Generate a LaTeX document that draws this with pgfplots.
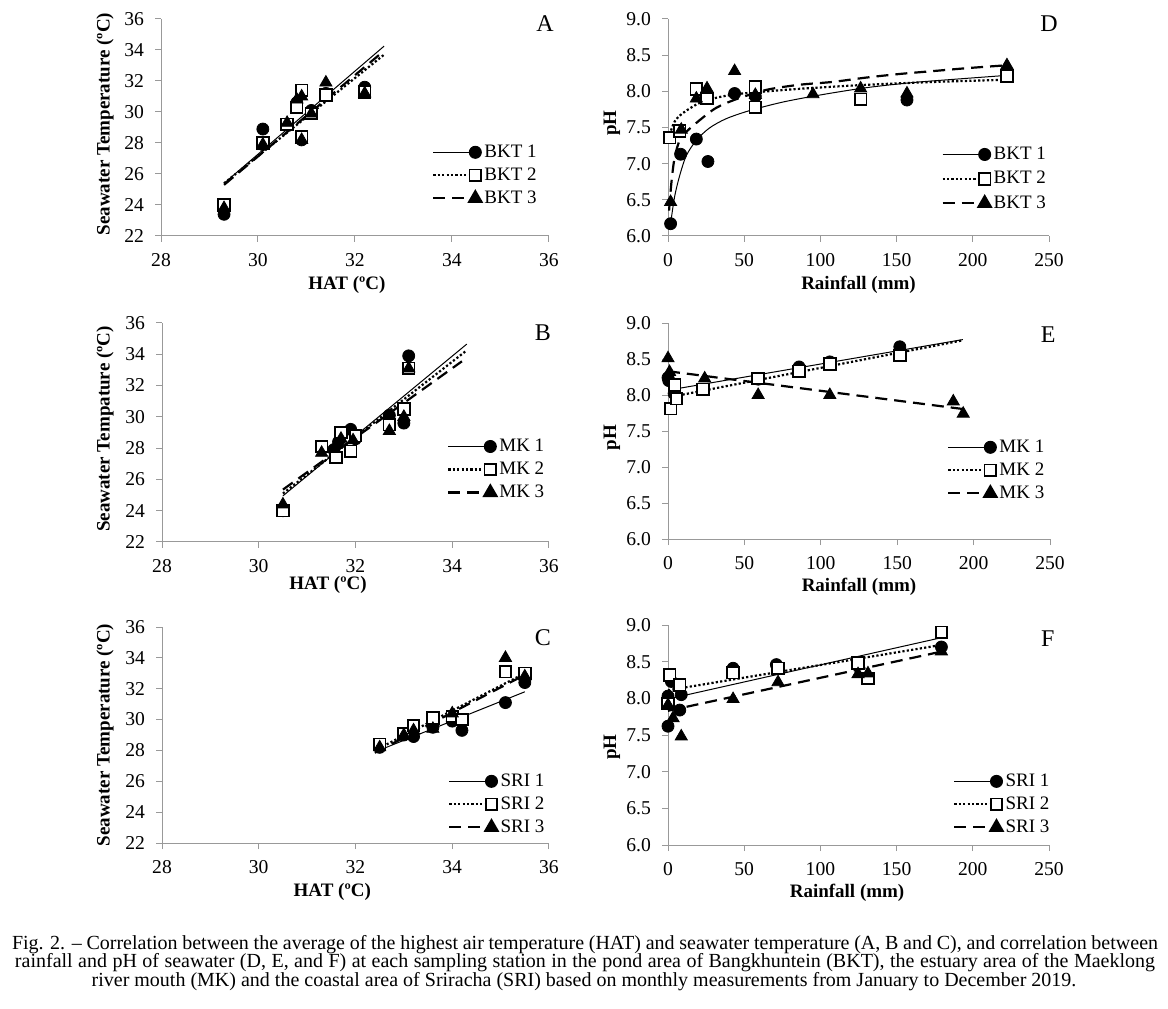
\documentclass[border=0pt]{standalone}
\usepackage{fontspec}
\setmainfont{Liberation Serif}
\usepackage{pgfplots}
\pgfplotsset{compat=1.18}

\pgfplotsset{
  panel/.style={
    scale only axis, width=194pt, height=108.5pt,
    axis x line*=bottom, axis y line*=left,
    axis line style={draw=gray!80, line width=0.5pt, -},
    tick style={draw=gray!80, line width=0.5pt},
    tick align=outside, major tick length=3pt,
    clip=false,
    ticklabel style={font=\fontsize{9.8}{10}\selectfont},
    yticklabel style={xshift=-2pt},
    xticklabel style={yshift=-2pt},
    label style={font=\bfseries\fontsize{9.5}{11}\selectfont},
    /pgf/number format/assume math mode=true,
    legend cell align=left,
    legend style={draw=none, fill=none, inner sep=0pt, anchor=north west,
      font=\fontsize{9.5}{11}\selectfont, row sep=2.5pt, column sep=1.5pt,
      nodes={inner sep=0pt, text height=7pt, text depth=2pt}},
    legend image code/.code={\draw[##1, mark repeat=2, mark phase=2]
      plot coordinates {(0pt,0pt) (21pt,0pt)};},
  },
  temp/.style={panel, xmin=28, xmax=36, ymin=22, ymax=36,
    xtick={28,30,...,36}, ytick={22,24,...,36}, xlabel={HAT (ºC)}},
  ph/.style={panel, width=190.5pt, xmin=0, xmax=250, ymin=6, ymax=9,
    xtick={0,50,...,250}, ytick={6,6.5,...,9},
    yticklabel style={/pgf/number format/.cd, fixed, fixed zerofill, precision=1},
    xlabel={Rainfall (mm)}, ylabel={pH}},
  s1/.style={only marks, mark=*, mark size=3pt, mark options={fill=black, draw=black}, forget plot},
  s2/.style={only marks, mark=square*, mark size=2.9pt, mark options={fill=white, draw=black, line width=0.9pt}, forget plot},
  s3/.style={only marks, mark=triangle*, mark size=3.5pt, mark options={fill=black, draw=black}, forget plot},
  l1/.style={no marks, black, line width=0.5pt, forget plot},
  l2/.style={no marks, black, line width=1.1pt, dash pattern=on 1.1pt off 1.1pt, forget plot},
  l3/.style={no marks, black, line width=1.1pt, dash pattern=on 6pt off 3.5pt, forget plot},
  g1/.style={black, line width=0.5pt, mark=*, mark size=3pt, mark options={solid, fill=black}},
  g2/.style={black, line width=1.1pt, dash pattern=on 1.1pt off 1.1pt, mark=square*, mark size=2.9pt, mark options={solid, fill=white, line width=0.9pt}},
  g3/.style={black, line width=1.1pt, dash pattern=on 6pt off 3.5pt, mark=triangle*, mark size=3.5pt, mark options={solid, fill=black}},
}
\newcommand\panelletter[3]{\node[font=\fontsize{12}{12}\selectfont] at (rel axis cs:#1,#2) {#3};}

\begin{document}
\begin{tikzpicture}
\path[use as bounding box] (0,0) rectangle (584pt,504pt);

% ---------- A: BKT, HAT vs seawater temperature
\begin{axis}[temp, at={(80.5pt,386pt)}, anchor=south west,
    ylabel={Seawater Temperature (ºC)},
    xlabel style={at={(axis description cs:0.479,-0.226)}, anchor=center},
    ylabel style={at={(axis description cs:-0.144,0.516)}, anchor=center},
    legend style={at={(0.698,0.429)}}]
  \addplot[s1] coordinates {(29.3,23.4) (30.1,28.9) (30.1,27.9) (30.6,29.2) (30.8,30.6) (30.9,28.2) (31.1,30.1) (31.4,31.2) (32.2,31.6)};
  \addplot[s2] coordinates {(29.3,24.0) (30.1,28.0) (30.6,29.2) (30.8,30.3) (30.9,31.4) (30.9,28.4) (31.1,29.9) (31.4,31.1) (32.2,31.3)};
  \addplot[s3] coordinates {(29.3,23.8) (30.1,27.9) (30.6,29.3) (30.8,30.8) (30.9,31.0) (30.9,28.2) (31.1,29.9) (31.4,31.9) (32.2,31.2)};
  \addplot[l1] coordinates {(29.3,25.4) (32.6,34.25)};
  \addplot[l2] coordinates {(29.3,25.4) (32.6,33.7)};
  \addplot[l3] coordinates {(29.3,25.3) (32.6,33.95)};
  \addlegendimage{g1}\addlegendentry{BKT 1}
  \addlegendimage{g2}\addlegendentry{BKT 2}
  \addlegendimage{g3}\addlegendentry{BKT 3}
  \panelletter{0.99}{0.977}{A}
\end{axis}

% ---------- B: MK
\begin{axis}[temp, at={(81pt,233pt)}, anchor=south west, width=193.5pt, height=109.5pt,
    ylabel={Seawater Tempature (ºC)},
    xlabel style={at={(axis description cs:0.429,-0.196)}, anchor=center},
    ylabel style={at={(axis description cs:-0.147,0.516)}, anchor=center},
    legend style={at={(0.736,0.479)}}]
  \addplot[s1] coordinates {(30.5,24.0) (31.55,27.9) (31.65,28.4) (31.9,29.2) (32.0,28.6) (32.7,30.1) (33.0,29.6) (33.1,33.9)};
  \addplot[s2] coordinates {(30.5,24.0) (31.3,28.1) (31.6,27.4) (31.7,29.0) (31.9,27.8) (32.0,28.8) (32.7,29.5) (33.0,30.5) (33.1,33.1)};
  \addplot[s3] coordinates {(30.5,24.4) (31.3,27.7) (31.6,28.2) (31.7,28.6) (31.95,28.5) (32.7,29.1) (33.0,30.0) (33.1,33.1)};
  \addplot[l1] coordinates {(30.5,24.95) (34.3,34.65)};
  \addplot[l2] coordinates {(30.5,25.1) (34.3,34.25)};
  \addplot[l3] coordinates {(30.5,25.35) (34.2,33.55)};
  \addlegendimage{g1}\addlegendentry{MK 1}
  \addlegendimage{g2}\addlegendentry{MK 2}
  \addlegendimage{g3}\addlegendentry{MK 3}
  \panelletter{0.984}{0.954}{B}
\end{axis}

% ---------- C: SRI
\begin{axis}[temp, at={(81pt,82.5pt)}, anchor=south west, width=193.5pt, height=108pt,
    ylabel={Seawater Temperature (ºC)},
    xlabel style={at={(axis description cs:0.44,-0.227)}, anchor=center},
    ylabel style={at={(axis description cs:-0.147,0.50)}, anchor=center},
    legend style={at={(0.739,0.329)}}]
  \addplot[s1] coordinates {(32.5,28.2) (33.0,29.0) (33.2,28.9) (33.6,29.5) (34.0,29.9) (34.2,29.3) (35.1,31.1) (35.5,32.4)};
  \addplot[s2] coordinates {(32.5,28.4) (33.0,29.1) (33.2,29.6) (33.6,30.1) (34.0,30.2) (34.2,30.0) (35.1,33.1) (35.5,33.0)};
  \addplot[s3] coordinates {(32.5,28.2) (33.0,29.0) (33.2,29.3) (33.6,29.4) (34.0,30.4) (35.1,34.0) (35.5,32.8)};
  \addplot[l1] coordinates {(32.4,27.9) (35.5,31.8)};
  \addplot[l2] coordinates {(32.4,28.0) (35.5,33.0)};
  \addplot[l3] coordinates {(32.4,27.85) (35.5,32.9)};
  \addlegendimage{g1}\addlegendentry{SRI 1}
  \addlegendimage{g2}\addlegendentry{SRI 2}
  \addlegendimage{g3}\addlegendentry{SRI 3}
  \panelletter{0.984}{0.95}{C}
\end{axis}

% ---------- D: BKT, rainfall vs pH (log trend lines)
\begin{axis}[ph, at={(334pt,386pt)}, anchor=south west,
    xlabel style={at={(axis description cs:0.50,-0.226)}, anchor=center},
    ylabel style={at={(axis description cs:-0.147,0.52)}, anchor=center},
    legend style={at={(0.717,0.419)}, row sep=3.2pt}]
  \addplot[s1] coordinates {(1.7,6.17) (8.3,7.13) (18.6,7.34) (26.2,7.03) (43.7,7.97) (57.3,7.93) (156.8,7.88)};
  \addplot[s2] coordinates {(1.1,7.36) (7.7,7.45) (18.6,8.03) (25.6,7.90) (57.3,8.06) (57.3,7.78) (126.4,7.89) (222.4,8.21)};
  \addplot[s3] coordinates {(1.7,6.47) (8.7,7.47) (18.6,7.90) (25.6,8.04) (43.7,8.28) (57.3,7.95) (95.1,7.96) (126.4,8.04) (156.8,7.97) (222.4,8.36)};
  \addplot[l1, smooth] coordinates {(1.7,6.17) (4.3,6.54) (7.6,6.83) (12,7.11) (18.5,7.32) (27,7.49) (38,7.62) (53,7.73) (75,7.85) (100,7.95) (130,8.05) (160,8.12) (190,8.17) (222,8.22)};
  \addplot[l2, smooth] coordinates {(1.1,7.40) (4.3,7.58) (9.8,7.70) (20.7,7.84) (31.5,7.91) (44.6,7.96) (65,8.0) (90,8.04) (130,8.09) (175,8.13) (222,8.16)};
  \addplot[l3, smooth] coordinates {(0.7,6.35) (2.2,6.73) (4.3,7.08) (7.6,7.32) (12,7.44) (20.7,7.60) (31.5,7.77) (44.6,7.89) (64.5,8.02) (86,8.09) (108,8.13) (130,8.19) (152,8.24) (174,8.28) (196,8.32) (222,8.36)};
  \addlegendimage{g1}\addlegendentry{BKT 1}
  \addlegendimage{g2}\addlegendentry{BKT 2}
  \addlegendimage{g3}\addlegendentry{BKT 3}
  \panelletter{1.0}{0.98}{D}
\end{axis}

% ---------- E: MK
\begin{axis}[ph, at={(334pt,234.5pt)}, anchor=south west, height=108pt, width=191pt,
    xlabel style={at={(axis description cs:0.50,-0.222)}, anchor=center},
    ylabel style={at={(axis description cs:-0.147,0.47)}, anchor=center},
    legend style={at={(0.730,0.468)}}]
  \addplot[s1] coordinates {(0,8.24) (0.5,8.20) (4,8.02) (59,8.22) (85.8,8.39) (105.9,8.46) (151.7,8.67)};
  \addplot[s2] coordinates {(1.7,7.81) (4.4,8.14) (5.5,7.95) (22.9,8.08) (59,8.23) (85.8,8.33) (105.9,8.43) (151.7,8.55)};
  \addplot[s3] coordinates {(0,8.51) (1,8.32) (24,8.23) (59,8.0) (105.9,8.0) (186.7,7.91) (193.2,7.74)};
  \addplot[l1] coordinates {(1,8.07) (193,8.77)};
  \addplot[l2] coordinates {(1,7.97) (193,8.76)};
  \addplot[l3] coordinates {(0,8.33) (195,7.80)};
  \addlegendimage{g1}\addlegendentry{MK 1}
  \addlegendimage{g2}\addlegendentry{MK 2}
  \addlegendimage{g3}\addlegendentry{MK 3}
  \panelletter{0.995}{0.944}{E}
\end{axis}

% ---------- F: SRI
\begin{axis}[ph, at={(334pt,81.5pt)}, anchor=south west, height=110pt,
    xlabel style={at={(axis description cs:0.47,-0.218)}, anchor=center},
    ylabel style={at={(axis description cs:-0.147,0.445)}, anchor=center},
    legend style={at={(0.748,0.332)}}]
  \addplot[s1] coordinates {(0,7.62) (0,8.03) (2.2,8.23) (7.7,7.84) (8.7,8.05) (42.7,8.41) (71.1,8.46) (179.4,8.70)};
  \addplot[s2] coordinates {(1.1,8.32) (0,7.93) (7.7,8.18) (42.7,8.35) (72.2,8.41) (124.7,8.48) (131.2,8.27) (179.4,8.90)};
  \addplot[s3] coordinates {(0,7.91) (3.3,7.73) (8.7,7.48) (42.7,7.99) (72.2,8.22) (124.7,8.33) (131.2,8.34) (179.4,8.64)};
  \addplot[l1] coordinates {(0,7.99) (180,8.83)};
  \addplot[l2] coordinates {(0,8.11) (180,8.73)};
  \addplot[l3] coordinates {(0,7.83) (180,8.64)};
  \addlegendimage{g1}\addlegendentry{SRI 1}
  \addlegendimage{g2}\addlegendentry{SRI 2}
  \addlegendimage{g3}\addlegendentry{SRI 3}
  \panelletter{0.997}{0.94}{F}
\end{axis}

% ---------- caption
\begin{scope}[every node/.style={anchor=base, inner sep=0pt, font=\fontsize{10}{10}\selectfont}]
\node at (292.5pt,29.5pt) {\makebox[573pt][s]{Fig. 2. – Correlation between the average of the highest air temperature (HAT) and seawater temperature (A, B and C), and correlation between}};
\node at (292.5pt,20.2pt) {\makebox[570pt][s]{rainfall and pH of seawater (D, E, and F) at each sampling station in the pond area of Bangkhuntein (BKT), the estuary area of the Maeklong}};
\node at (292pt,10.9pt) {river mouth (MK) and the coastal area of Sriracha (SRI) based on monthly measurements from January to December 2019.};
\end{scope}
\end{tikzpicture}
\end{document}
